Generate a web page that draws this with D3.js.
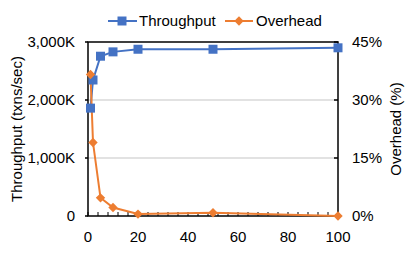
<!DOCTYPE html>
<html><head><meta charset="utf-8">
<script src="https://cdn.jsdelivr.net/npm/d3@7"></script>
<style>body{margin:0;background:#fff}text{font-family:"Liberation Sans",Arial,sans-serif;fill:#000}</style>
</head><body><svg id="c" width="407" height="255"></svg>
<script>
const xs = [1, 2, 5, 10, 20, 50, 100];
const throughput = [1860, 2345, 2755, 2830, 2875, 2875, 2900]; // K txns/sec
const overhead = [36.6, 19.0, 4.7, 2.2, 0.5, 0.85, 0.0]; // %
const xTicks = [0, 20, 40, 60, 80, 100];
const yLeftTicks = [0, 1000, 2000, 3000];
const yRightTicks = [0, 15, 30, 45];

const svg = d3.select("#c");
const L = 88, R = 338, T = 42, B = 216;
const x = d3.scaleLinear().domain([0, 100]).range([L, R]);
const yl = d3.scaleLinear().domain([0, 3000]).range([B, T]);
const yr = d3.scaleLinear().domain([0, 45]).range([B, T]);
const blue = "#4472C4", orange = "#ED7D31";
const fs = "15px";

// gridlines
svg.append("g").selectAll("line").data(yLeftTicks.filter(d => d > 0 && d < 3000)).join("line")
  .attr("x1", L).attr("x2", R).attr("y1", d => yl(d)).attr("y2", d => yl(d))
  .attr("stroke", "#d9d9d9").attr("stroke-width", 1.5);

// box
svg.append("rect").attr("x", L).attr("y", T).attr("width", R - L).attr("height", B - T)
  .attr("fill", "none").attr("stroke", "#000").attr("stroke-width", 1.5);

// x minor ticks (inside)
svg.append("g").selectAll("line").data(d3.range(0, 101, 4)).join("line")
  .attr("x1", d => x(d)).attr("x2", d => x(d)).attr("y1", B).attr("y2", B - 4)
  .attr("stroke", "#000").attr("stroke-width", 1);
// left y ticks
svg.append("g").selectAll("line").data(yLeftTicks).join("line")
  .attr("x1", L - 3).attr("x2", L).attr("y1", d => yl(d)).attr("y2", d => yl(d))
  .attr("stroke", "#000").attr("stroke-width", 1.5);
// right y ticks
svg.append("g").selectAll("line").data(yRightTicks).join("line")
  .attr("x1", R - 4).attr("x2", R).attr("y1", d => yr(d)).attr("y2", d => yr(d))
  .attr("stroke", "#000").attr("stroke-width", 1.5);

// labels
const fmtK = d => d === 0 ? "0" : d3.format(",")(d) + "K";
svg.append("g").selectAll("text").data(yLeftTicks).join("text")
  .attr("x", 75).attr("y", d => yl(d)).attr("dy", "0.36em").attr("text-anchor", "end")
  .style("font-size", fs).text(fmtK);
svg.append("g").selectAll("text").data(yRightTicks).join("text")
  .attr("x", 352).attr("y", d => yr(d)).attr("dy", "0.36em").attr("text-anchor", "start")
  .style("font-size", fs).text(d => d + "%");
svg.append("g").selectAll("text").data(xTicks).join("text")
  .attr("x", d => x(d)).attr("y", 242).attr("text-anchor", "middle")
  .style("font-size", fs).text(d => d);

svg.append("text").attr("transform", `translate(22,${(T + B) / 2}) rotate(-90)`)
  .attr("text-anchor", "middle").style("font-size", fs).text("Throughput (txns/sec)");
svg.append("text").attr("transform", `translate(401,${(T + B) / 2}) rotate(-90)`)
  .attr("text-anchor", "middle").style("font-size", fs).text("Overhead (%)");

// series
const lineL = d3.line().x((d, i) => x(xs[i])).y(d => yl(d));
const lineR = d3.line().x((d, i) => x(xs[i])).y(d => yr(d));
svg.append("path").attr("d", lineL(throughput)).attr("fill", "none").attr("stroke", blue).attr("stroke-width", 2);
svg.append("path").attr("d", lineR(overhead)).attr("fill", "none").attr("stroke", orange).attr("stroke-width", 2);
const sq = d3.symbol().type(d3.symbolSquare).size(81);
const dm = d3.symbol().type(d3.symbolSquare).size(44);
svg.append("g").selectAll("path").data(throughput).join("path")
  .attr("transform", (d, i) => `translate(${x(xs[i])},${yl(d)})`).attr("d", sq).attr("fill", blue);
svg.append("g").selectAll("path").data(overhead).join("path")
  .attr("transform", (d, i) => `translate(${x(xs[i])},${yr(d)}) rotate(45)`).attr("d", dm).attr("fill", orange);

// legend
const lg = svg.append("g");
const ly = 21;
lg.append("line").attr("x1", 108).attr("x2", 137).attr("y1", ly).attr("y2", ly).attr("stroke", blue).attr("stroke-width", 2);
lg.append("path").attr("transform", `translate(122,${ly})`).attr("d", sq).attr("fill", blue);
lg.append("text").attr("x", 139).attr("y", ly).attr("dy", "0.36em").style("font-size", fs).text("Throughput");
lg.append("line").attr("x1", 225).attr("x2", 253).attr("y1", ly).attr("y2", ly).attr("stroke", orange).attr("stroke-width", 2);
lg.append("path").attr("transform", `translate(239,${ly}) rotate(45)`).attr("d", dm).attr("fill", orange);
lg.append("text").attr("x", 256).attr("y", ly).attr("dy", "0.36em").style("font-size", fs).text("Overhead");
</script></body></html>
